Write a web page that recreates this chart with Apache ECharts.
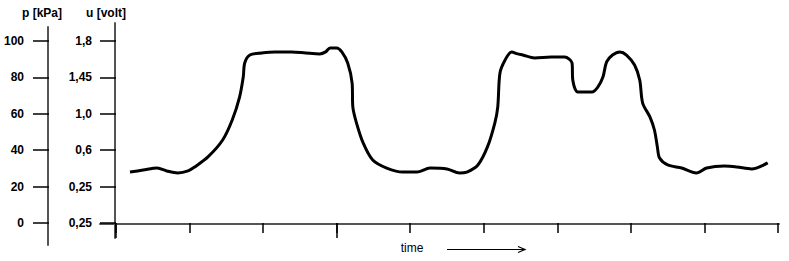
<!DOCTYPE html>
<html>
<head>
<meta charset="utf-8">
<script src="https://cdn.jsdelivr.net/npm/echarts@6/dist/echarts.min.js"></script>
<style>
html,body{margin:0;padding:0;background:#fff;}
#chart{width:789px;height:261px;}
</style>
</head>
<body>
<div id="chart"></div>
<script>
// time in tick units (0..9), pressure in kPa
const timeVals = [0.19,0.37,0.56,0.69,0.84,0.98,1.07,1.25,1.45,1.58,1.68,1.73,1.75,1.82,1.98,2.16,2.39,2.58,2.77,2.85,2.91,3.00,3.07,3.15,3.21,3.22,3.27,3.36,3.49,3.68,3.90,4.09,4.27,4.50,4.67,4.77,4.92,5.05,5.15,5.19,5.22,5.29,5.38,5.46,5.53,5.69,5.92,6.10,6.20,6.21,6.28,6.47,6.55,6.62,6.67,6.75,6.85,6.94,7.05,7.12,7.16,7.26,7.32,7.36,7.39,7.50,7.69,7.89,8.03,8.27,8.44,8.64,8.86];
const pressure = [28.0,29.1,30.2,28.6,27.5,28.6,30.8,36.3,45.6,56.6,69.2,80.2,87.9,92.3,93.4,94.0,94.0,93.4,92.9,94.0,96.2,96.2,94.0,87.9,76.9,63.7,54.9,44.0,34.6,30.2,28.0,28.0,30.2,29.7,27.5,28.0,31.9,41.8,54.9,63.7,82.4,89.6,94.0,92.9,92.3,90.7,91.2,91.2,87.9,78.6,72.0,72.0,74.7,80.2,88.5,92.3,94.0,92.3,86.8,78.6,65.9,58.2,51.1,41.8,35.7,31.9,30.2,27.5,30.2,31.3,30.8,29.7,33.0];
const pTicks = [0, 20, 40, 60, 80, 100];
const uLabels = ['0,25', '0,25', '0,6', '1,0', '1,45', '1,8'];
const xTickCount = 9;

const font = 'Liberation Sans, Arial, sans-serif';
const lineCol = '#555';
const chart = echarts.init(document.getElementById('chart'), null, {renderer: 'svg'});

const hiddenX = (g) => ({type: 'value', gridIndex: g, show: false, min: 0, max: 1});
const hiddenY = (g) => ({type: 'value', gridIndex: g, show: false, min: 0, max: 1});

const option = {
  animation: false,
  backgroundColor: '#fff',
  grid: [
    {left: 116, right: 11, top: 41, bottom: 38},          // 0 main plot + u ticks
    {left: 115, width: 10, top: 23, bottom: 23},          // 1 u axis line
    {left: 48, width: 10, top: 27, bottom: 16},           // 2 p axis line
    {left: 49, width: 10, top: 41, bottom: 38},           // 3 p ticks + labels
    {left: 100, right: 10, top: 41, bottom: 37.5},        // 4 x axis line
    {left: 116, width: 3 * 662 / 9, top: 41, bottom: 38}  // 5 long x ticks
  ],
  xAxis: [
    {
      type: 'value', gridIndex: 0, min: 0, max: xTickCount, interval: 1,
      axisLine: {show: false},
      axisTick: {show: true, length: 10, lineStyle: {color: '#000', width: 1.5}},
      axisLabel: {show: false},
      splitLine: {show: false},
      name: 'time', nameLocation: 'middle', nameGap: 19,
      nameTextStyle: {fontFamily: font, fontSize: 12, color: '#000', padding: [0, 70, 0, 0]}
    },
    hiddenX(1), hiddenX(2), hiddenX(3),
    {
      type: 'value', gridIndex: 4, min: 0, max: 1,
      axisLine: {show: true, lineStyle: {color: lineCol, width: 2}},
      axisTick: {show: false}, axisLabel: {show: false}, splitLine: {show: false}
    },
    {
      type: 'value', gridIndex: 5, min: 0, max: 3, interval: 3,
      axisLine: {show: false},
      axisTick: {show: true, length: 15, lineStyle: {color: '#000', width: 1.5}},
      axisLabel: {show: false}, splitLine: {show: false}
    }
  ],
  yAxis: [
    {
      type: 'value', gridIndex: 0, min: 0, max: 100, interval: 20,
      axisLine: {show: false},
      axisTick: {show: true, length: 16, lineStyle: {color: '#000', width: 1.5}},
      axisLabel: {
        show: true, margin: 24, fontFamily: font, fontSize: 12, fontWeight: 'bold', color: '#000',
        formatter: (v) => uLabels[pTicks.indexOf(v)]
      },
      splitLine: {show: false},
      name: 'u [volt]', nameLocation: 'end', nameGap: 22,
      nameTextStyle: {fontFamily: font, fontSize: 12, fontWeight: 'bold', color: '#000', padding: [0, 20, 0, 0]}
    },
    {
      type: 'value', gridIndex: 1, min: 0, max: 1,
      axisLine: {show: true, lineStyle: {color: lineCol, width: 2}},
      axisTick: {show: false}, axisLabel: {show: false}, splitLine: {show: false}
    },
    {
      type: 'value', gridIndex: 2, min: 0, max: 1,
      axisLine: {show: true, lineStyle: {color: lineCol, width: 2}},
      axisTick: {show: false}, axisLabel: {show: false}, splitLine: {show: false}
    },
    {
      type: 'value', gridIndex: 3, min: 0, max: 100, interval: 20,
      axisLine: {show: false},
      axisTick: {show: true, length: 16, lineStyle: {color: '#000', width: 1.5}},
      axisLabel: {show: true, margin: 25, fontFamily: font, fontSize: 12, fontWeight: 'bold', color: '#000'},
      splitLine: {show: false},
      name: 'p [kPa]', nameLocation: 'end', nameGap: 22,
      nameTextStyle: {fontFamily: font, fontSize: 12, fontWeight: 'bold', color: '#000', padding: [0, 14, 0, 0]}
    },
    hiddenY(4), hiddenY(5)
  ],
  graphic: [
    {
      type: 'group',
      children: [
        {type: 'line', shape: {x1: 447, y1: 249.5, x2: 525, y2: 249.5}, style: {stroke: '#000', lineWidth: 1.2}},
        {type: 'polyline', shape: {points: [[518, 246.5], [525, 249.5], [518, 252.5]]}, style: {stroke: '#000', fill: null, lineWidth: 1.2}}
      ]
    }
  ],
  series: [
    {
      type: 'line', xAxisIndex: 0, yAxisIndex: 0,
      data: timeVals.map((t, i) => [t, pressure[i]]),
      smooth: 0.3, symbol: 'none',
      lineStyle: {color: '#000', width: 3}
    }
  ]
};
chart.setOption(option);
</script>
</body>
</html>
